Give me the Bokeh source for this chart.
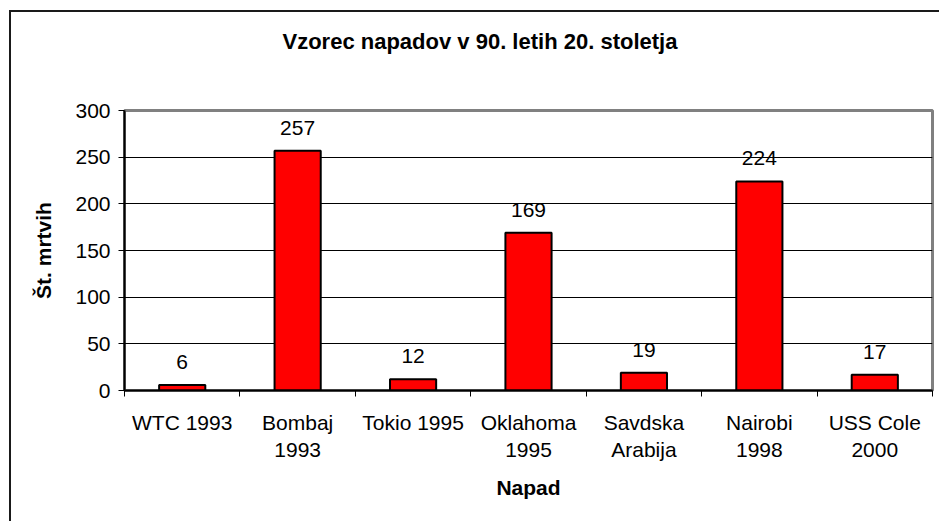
from bokeh.plotting import figure
from bokeh.models import FixedTicker, ColumnDataSource, LabelSet, Range1d, Title
from bokeh.core.properties import value
from bokeh.embed import file_html
from bokeh.resources import INLINE

categories = ["WTC 1993", "Bombaj\n1993", "Tokio 1995", "Oklahoma\n1995",
              "Savdska\nArabija", "Nairobi\n1998", "USS Cole\n2000"]
deaths = [6, 257, 12, 169, 19, 224, 17]
y_ticks = [0, 50, 100, 150, 200, 250, 300]

title_text = "Vzorec napadov v 90. letih 20. stoletja"
x_title = "Napad"
y_title = "Št. mrtvih"

FONT = "Liberation Sans"
FS = "21px"
INK = "#000000"

xs = list(range(len(categories)))
src = ColumnDataSource(dict(x=xs, y=deaths, lab=[str(v) for v in deaths]))

p = figure(width=930, height=511, output_backend="svg", toolbar_location=None,
           x_range=Range1d(-0.5, len(categories) - 0.5), y_range=Range1d(0, 300),
           min_border_left=113, min_border_top=98, min_border_right=9, min_border_bottom=133)
p.margin = (10, 0, 0, 9)
p.styles = {"border-left": "2px solid #1a1a1a", "border-top": "2px solid #1a1a1a"}

# spacer between title and plot area
spacer = Title(text=" ", text_font_size="1px", standoff=41)
p.add_layout(spacer, "above")

p.title.text = title_text
p.title.text_font = FONT
p.title.text_font_size = "22px"
p.title.text_font_style = "bold"
p.title.text_color = INK
p.title.align = "left"
p.title.offset = 158
p.title.standoff = 26

p.vbar(x="x", top="y", width=0.4, source=src, fill_color="#ff0000",
       line_color="#000000", line_width=2)

labels = LabelSet(x="x", y="y", text="lab", source=src, text_align="center",
                  text_baseline="bottom", y_offset=16, text_font=value(FONT),
                  text_font_size=value(FS), text_color=INK)
p.add_layout(labels)

p.outline_line_color = "#808080"
p.outline_line_width = 3
p.background_fill_color = "white"
p.border_fill_color = "white"

p.xgrid.grid_line_color = None
p.ygrid.grid_line_color = "#000000"
p.ygrid.grid_line_width = 1
p.ygrid.ticker = FixedTicker(ticks=y_ticks)

p.yaxis.ticker = FixedTicker(ticks=y_ticks)
p.yaxis.axis_label = y_title
p.yaxis.axis_label_text_font = FONT
p.yaxis.axis_label_text_font_size = FS
p.yaxis.axis_label_text_font_style = "bold"
p.yaxis.axis_label_text_color = INK
p.yaxis.axis_label_standoff = 17
p.yaxis.major_label_text_font = FONT
p.yaxis.major_label_text_font_size = FS
p.yaxis.major_label_text_color = INK
p.yaxis.major_label_standoff = 8
p.yaxis.major_tick_out = 6
p.yaxis.major_tick_in = 0
p.yaxis.major_tick_line_color = INK
p.yaxis.minor_tick_line_color = None
p.yaxis.axis_line_color = INK
p.yaxis.axis_line_width = 2

p.xaxis.ticker = FixedTicker(ticks=xs, minor_ticks=[i - 0.5 for i in range(len(categories) + 1)])
p.xaxis.major_label_overrides = {i: c for i, c in enumerate(categories)}
p.xaxis.major_tick_line_color = None
p.xaxis.major_tick_out = 6
p.xaxis.major_tick_in = 0
p.xaxis.minor_tick_line_color = INK
p.xaxis.minor_tick_out = 6
p.xaxis.minor_tick_in = 0
p.xaxis.major_label_text_font = FONT
p.xaxis.major_label_text_font_size = FS
p.xaxis.major_label_text_color = INK
p.xaxis.major_label_standoff = 14
p.xaxis.axis_label = x_title
p.xaxis.axis_label_text_font = FONT
p.xaxis.axis_label_text_font_size = FS
p.xaxis.axis_label_text_font_style = "bold"
p.xaxis.axis_label_text_color = INK
p.xaxis.axis_label_standoff = 12
p.xaxis.axis_line_color = INK
p.xaxis.axis_line_width = 2

open("out.html", "w").write(file_html(p, INLINE))
